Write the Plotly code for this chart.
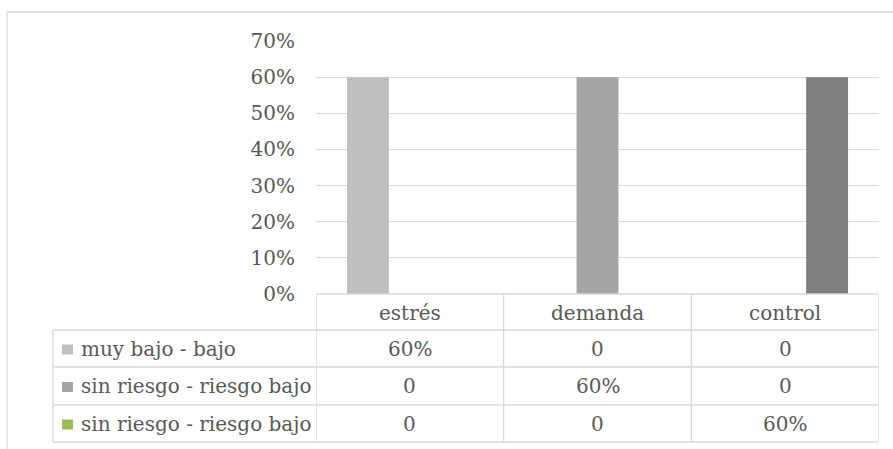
import plotly.graph_objects as go

categories = ["estrés", "demanda", "control"]
series_names = ["muy bajo - bajo", "sin riesgo - riesgo bajo", "sin riesgo - riesgo bajo"]
values_muy_bajo = [0.60, 0.0, 0.0]
values_sin_riesgo_1 = [0.0, 0.60, 0.0]
values_sin_riesgo_2 = [0.0, 0.0, 0.60]
bar_colors = ["#bfbfbf", "#a5a5a5", "#7f7f7f"]
key_colors = ["#bfbfbf", "#a5a5a5", "#9bbb59"]
y_ticks = [0, 0.1, 0.2, 0.3, 0.4, 0.5, 0.6, 0.7]

series = [values_muy_bajo, values_sin_riesgo_1, values_sin_riesgo_2]

W, H = 893, 449
FONT = "DejaVu Serif"
FS = 20
TXT = "#595959"
LINE = "#d9d9d9"


def px(x):
    return x / W


def py(y):
    return 1 - y / H


fig = go.Figure()
for name, vals, col in zip(series_names, series, bar_colors):
    fig.add_trace(go.Bar(x=categories, y=vals, name=name, marker=dict(color=col, line=dict(width=0))))

shapes = []
annotations = []

# outer chart frame (cropped)
shapes.append(dict(type="line", xref="paper", yref="paper", x0=px(7), x1=1.0, y0=py(12), y1=py(12),
                   line=dict(color=LINE, width=1.3)))
shapes.append(dict(type="line", xref="paper", yref="paper", x0=px(7), x1=px(7), y0=py(12), y1=0,
                   line=dict(color=LINE, width=1.3)))

# table geometry (pixel rows)
header_top, header_bot = 294, 330
row_bounds = [330, 367, 405, 442]
table_left = 53
table_right = 879

# horizontal lines
shapes.append(dict(type="line", xref="x", yref="paper", x0=-0.5, x1=2.5, y0=py(header_top), y1=py(header_top),
                   line=dict(color=LINE, width=1.3)))
for yb in row_bounds:
    shapes.append(dict(type="line", xref="paper", yref="paper", x0=px(table_left), x1=px(table_right),
                       y0=py(yb), y1=py(yb), line=dict(color=LINE, width=1.3)))
# vertical lines
for xv in [-0.5, 0.5, 1.5, 2.5]:
    shapes.append(dict(type="line", xref="x", yref="paper", x0=xv, x1=xv, y0=py(header_top), y1=py(row_bounds[-1]),
                       line=dict(color=LINE, width=1.3)))
shapes.append(dict(type="line", xref="paper", yref="paper", x0=px(table_left), x1=px(table_left),
                   y0=py(row_bounds[0]), y1=py(row_bounds[-1]), line=dict(color=LINE, width=1.3)))

# header labels
for c in categories:
    annotations.append(dict(x=c, xref="x", y=py((header_top + header_bot) / 2 + 1), yref="paper",
                            text=c, showarrow=False, font=dict(family=FONT, size=FS, color=TXT),
                            xanchor="center", yanchor="middle"))


def fmt(v):
    return "0" if v == 0 else f"{v * 100:.0f}%"


for i, (name, vals, kc) in enumerate(zip(series_names, series, key_colors)):
    y0, y1 = row_bounds[i], row_bounds[i + 1]
    yc = (y0 + y1) / 2
    shapes.append(dict(type="rect", xref="paper", yref="paper", x0=px(62), x1=px(73),
                       y0=py(yc - 4), y1=py(yc + 6), fillcolor=kc, line=dict(width=0)))
    annotations.append(dict(x=px(79), xref="paper", y=py(yc), yref="paper", text=name, showarrow=False,
                            font=dict(family=FONT, size=FS, color=TXT), xanchor="left", yanchor="middle"))
    for c, v in zip(categories, vals):
        annotations.append(dict(x=c, xref="x", y=py(yc), yref="paper", text=fmt(v), showarrow=False,
                                font=dict(family=FONT, size=FS, color=TXT), xanchor="center", yanchor="middle"))

fig.update_layout(
    width=W, height=H,
    margin=dict(l=0, r=0, t=0, b=0, pad=0, autoexpand=False),
    paper_bgcolor="white", plot_bgcolor="white",
    barmode="group", bargap=0.33, bargroupgap=0,
    showlegend=False,
    shapes=shapes, annotations=annotations,
    xaxis=dict(domain=[px(316), px(879)], range=[-0.5, 2.5], showticklabels=False, showgrid=False,
               zeroline=False, showline=False, ticks="", automargin=False),
    yaxis=dict(domain=[py(294), py(41)], range=[0, 0.7], tickvals=y_ticks, tickformat=".0%",
               showgrid=True, gridcolor=LINE, gridwidth=1.3, zeroline=False, showline=False,
               ticks="outside", ticklen=16, tickcolor="rgba(0,0,0,0)", automargin=False,
               tickfont=dict(family=FONT, size=FS, color=TXT)),
)

fig.write_html("out.html")
